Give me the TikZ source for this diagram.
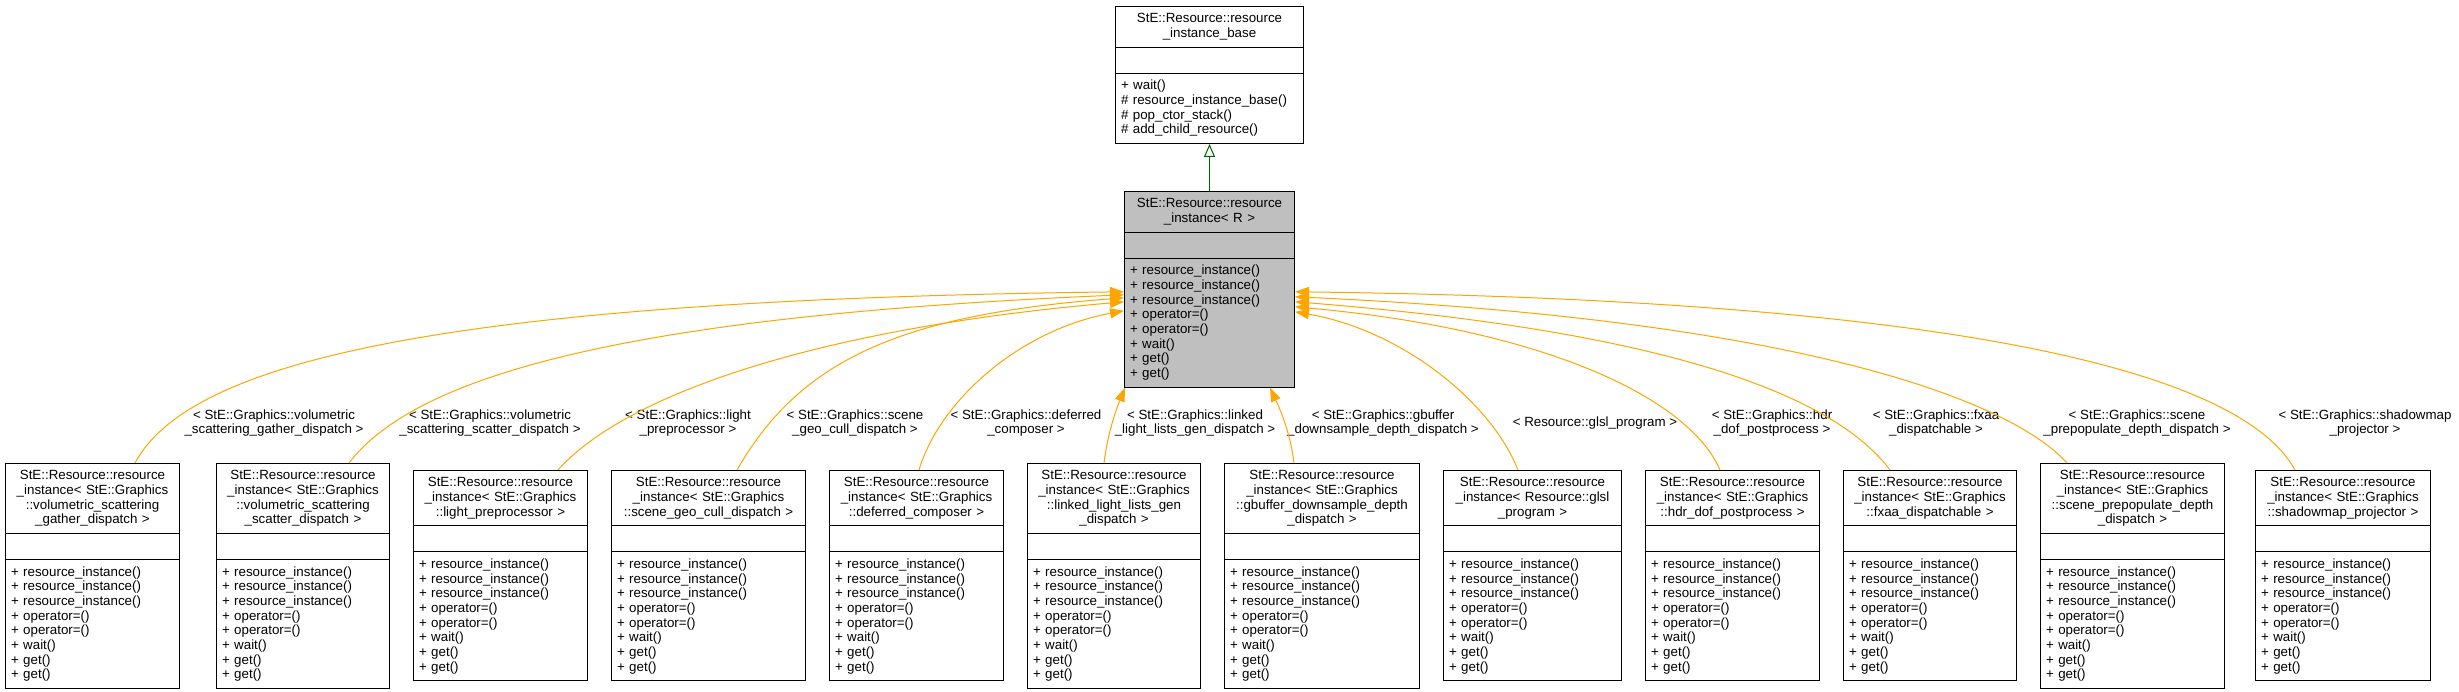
\documentclass[tikz,border=0pt]{standalone}
\usepackage{fontspec}
\setmainfont{Liberation Sans}
\usetikzlibrary{arrows.meta,shapes.multipart}

\definecolor{instorange}{RGB}{255,165,0}
\definecolor{inhgreen}{RGB}{0,100,0}
\definecolor{selgray}{RGB}{191,191,191}

\newcommand{\rimembers}{{\raggedright + resource\_instance()\\+ resource\_instance()\\+ resource\_instance()\\+ operator=()\\+ operator=()\\+ wait()\\+ get()\\+ get()\par}}
\newcommand{\emptypart}{\rule{0pt}{12pt}}
\newcommand{\riprefix}{StE::Resource::resource\\\_instance< }

\tikzset{
  cls/.style={rectangle split, rectangle split parts=3, draw=black, line width=1pt,
    fill=white, anchor=north west, align=center, inner xsep=5.5pt, inner ysep=6.5pt,
    font=\fontsize{13.33}{14.65}\selectfont},
  lbl/.style={align=center, inner sep=0pt, font=\fontsize{13.33}{14.65}\selectfont},
  instof/.style={draw=instorange, line width=1pt, >={Triangle[length=14pt,width=10pt]}},
  inherit/.style={draw=inhgreen, line width=1pt, >={Triangle[open,length=13pt,width=11pt,fill=white]}}
}

\begin{document}
\begin{tikzpicture}[x=1pt,y=-1pt]
    \useasboundingbox (0,0) rectangle (2459,692);
    % base class and template
    \node[cls, text width=177pt] (base) at (1115,6)
      {StE::Resource::resource\\\_instance\_base
       \nodepart{two}\emptypart
       \nodepart{three}{\raggedright + wait()\\\# resource\_instance\_base()\\\# pop\_ctor\_stack()\\\# add\_child\_resource()\par}};
    \node[cls, fill=selgray, text width=159pt] (inst) at (1124,191)
      {StE::Resource::resource\\\_instance< R >
       \nodepart{two}\emptypart
       \nodepart{three}\rimembers};
    \draw[inherit, ->] (inst.north) -- (base.south);

    % instances
    \node[cls, text width=163pt] (gather) at (5,463)
      {\riprefix StE::Graphics\\::volumetric\_scattering\\\_gather\_dispatch >
       \nodepart{two}\emptypart \nodepart{three}\rimembers};
    \node[cls, text width=162pt] (scatter) at (216,463)
      {\riprefix StE::Graphics\\::volumetric\_scattering\\\_scatter\_dispatch >
       \nodepart{two}\emptypart \nodepart{three}\rimembers};
    \node[cls, text width=163pt] (lightpre) at (413,470)
      {\riprefix StE::Graphics\\::light\_preprocessor >
       \nodepart{two}\emptypart \nodepart{three}\rimembers};
    \node[cls, text width=183pt] (geocull) at (611,470)
      {\riprefix StE::Graphics\\::scene\_geo\_cull\_dispatch >
       \nodepart{two}\emptypart \nodepart{three}\rimembers};
    \node[cls, text width=163pt] (deferred) at (829,470)
      {\riprefix StE::Graphics\\::deferred\_composer >
       \nodepart{two}\emptypart \nodepart{three}\rimembers};
    \node[cls, text width=162pt] (linked) at (1027,463)
      {\riprefix StE::Graphics\\::linked\_light\_lists\_gen\\\_dispatch >
       \nodepart{two}\emptypart \nodepart{three}\rimembers};
    \node[cls, text width=184pt] (gbuffer) at (1224,463)
      {\riprefix StE::Graphics\\::gbuffer\_downsample\_depth\\\_dispatch >
       \nodepart{two}\emptypart \nodepart{three}\rimembers};
    \node[cls, text width=167pt] (glsl) at (1443,470)
      {\riprefix Resource::glsl\\\_program >
       \nodepart{two}\emptypart \nodepart{three}\rimembers};
    \node[cls, text width=163pt] (hdrdof) at (1645,470)
      {\riprefix StE::Graphics\\::hdr\_dof\_postprocess >
       \nodepart{two}\emptypart \nodepart{three}\rimembers};
    \node[cls, text width=162pt] (fxaa) at (1843,470)
      {\riprefix StE::Graphics\\::fxaa\_dispatchable >
       \nodepart{two}\emptypart \nodepart{three}\rimembers};
    \node[cls, text width=173pt] (prepop) at (2040,463)
      {\riprefix StE::Graphics\\::scene\_prepopulate\_depth\\\_dispatch >
       \nodepart{two}\emptypart \nodepart{three}\rimembers};
    \node[cls, text width=164pt] (shadow) at (2255,470)
      {\riprefix StE::Graphics\\::shadowmap\_projector >
       \nodepart{two}\emptypart \nodepart{three}\rimembers};

    % template arguments
    \node[lbl] (lgather) at (274,423) {< StE::Graphics::volumetric\\\_scattering\_gather\_dispatch >};
    \node[lbl] (lscatter) at (490,423) {< StE::Graphics::volumetric\\\_scattering\_scatter\_dispatch >};
    \node[lbl] (llightpre) at (688,423) {< StE::Graphics::light\\\_preprocessor >};
    \node[lbl] (lgeocull) at (855,423) {< StE::Graphics::scene\\\_geo\_cull\_dispatch >};
    \node[lbl] (ldeferred) at (1026,423) {< StE::Graphics::deferred\\\_composer >};
    \node[lbl] (llinked) at (1195,423) {< StE::Graphics::linked\\\_light\_lists\_gen\_dispatch >};
    \node[lbl] (lgbuffer) at (1383,423) {< StE::Graphics::gbuffer\\\_downsample\_depth\_dispatch >};
    \node[lbl] (lglsl) at (1595,423) {< Resource::glsl\_program >};
    \node[lbl] (lhdrdof) at (1772,423) {< StE::Graphics::hdr\\\_dof\_postprocess >};
    \node[lbl] (lfxaa) at (1936,423) {< StE::Graphics::fxaa\\\_dispatchable >};
    \node[lbl] (lprepop) at (2137,423) {< StE::Graphics::scene\\\_prepopulate\_depth\_dispatch >};
    \node[lbl] (lshadow) at (2365,423) {< StE::Graphics::shadowmap\\\_projector >};

    % instantiation edges
    \draw[instof, ->] ([xshift=130pt]gather.north west) .. controls (190,360) and (450,300) .. ([yshift=-2.5pt]inst.west);
    \draw[instof, ->] ([xshift=133pt]scatter.north west) .. controls (420,370) and (650,315) .. ([yshift=-5.5pt]inst.west);
    \draw[instof, ->] ([xshift=145pt]lightpre.north west) .. controls (620,400) and (800,330) .. ([yshift=-12.5pt]inst.west);
    \draw[instof, ->] ([xshift=126pt]geocull.north west) .. controls (800,360) and (900,315) .. ([yshift=-8.5pt]inst.west);
    \draw[instof, ->] ([xshift=90pt]deferred.north west) .. controls (940,400) and (1020,330) .. ([yshift=-21.5pt]inst.west);
    \draw[instof, ->] ([xshift=77pt]linked.north west) .. controls (1108,430) and (1118,405) .. ([xshift=1pt]inst.south west);
    \draw[instof, ->] ([xshift=70pt]gbuffer.north west) .. controls (1290,430) and (1278,405) .. ([xshift=146pt]inst.south west);
    \draw[instof, ->] ([xshift=75pt]glsl.north west) .. controls (1490,400) and (1400,330) .. ([yshift=-22.5pt]inst.east);
    \draw[instof, ->] ([xshift=75pt]hdrdof.north west) .. controls (1690,400) and (1550,330) .. ([yshift=-17.5pt]inst.east);
    \draw[instof, ->] ([xshift=47pt]fxaa.north west) .. controls (1830,390) and (1650,330) .. ([yshift=-12.5pt]inst.east);
    \draw[instof, ->] ([xshift=27pt]prepop.north west) .. controls (2010,400) and (1800,320) .. ([yshift=-7.5pt]inst.east);
    \draw[instof, ->] ([xshift=40pt]shadow.north west) .. controls (2240,370) and (1950,300) .. ([yshift=-2.5pt]inst.east);
\end{tikzpicture}
\end{document}
